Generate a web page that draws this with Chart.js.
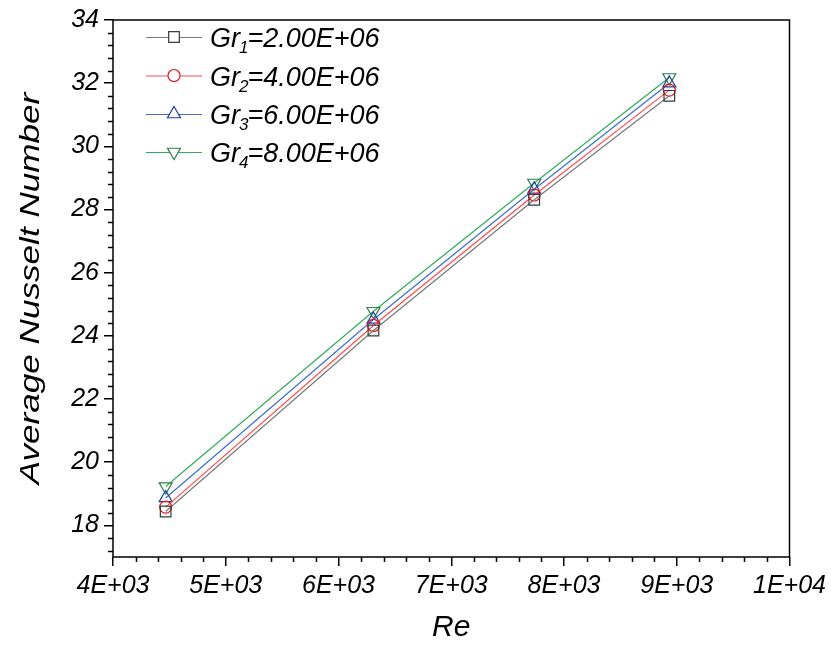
<!DOCTYPE html>
<html>
<head>
<meta charset="utf-8">
<script src="https://cdn.jsdelivr.net/npm/chart.js@4.4.0/dist/chart.umd.min.js"></script>
<style>
  html, body { margin: 0; padding: 0; background: #fff; }
  #wrap { width: 831px; height: 648px; position: relative; }
</style>
</head>
<body>
<div id="wrap"><canvas id="c" width="831" height="648"></canvas></div>
<script>
// Reynolds numbers of the four runs
const reynolds = [4467, 6310, 7736, 8934];

// Average Nusselt number for each Grashof number
const nuGr1 = [18.44, 24.17, 28.31, 31.60];
const nuGr2 = [18.58, 24.33, 28.46, 31.78];
const nuGr3 = [18.87, 24.52, 28.64, 32.00];
const nuGr4 = [19.23, 24.78, 28.84, 32.18];

// Legend text pieces: subscript index and Grashof value
const grIndex = ['1', '2', '3', '4'];
const grValue = ['2.00E+06', '4.00E+06', '6.00E+06', '8.00E+06'];

// Axis ticks and titles
const xTicks = [4000, 5000, 6000, 7000, 8000, 9000, 10000];
const yTicks = [18, 20, 22, 24, 26, 28, 30, 32, 34];
const yTitle = 'Average Nusselt Number';
const xTitle = 'Re';

const FONT = '"Liberation Sans", Arial, sans-serif';

function sciLabel(v) {
  const exp = Math.floor(Math.log10(v) + 1e-9);
  const mant = Math.round(v / Math.pow(10, exp) * 100) / 100;
  return mant + 'E+' + String(exp).padStart(2, '0');
}

const seriesStyle = [
  { line: '#7a7a7a', mark: '#3a3a3a', style: 'rect',     radius: 7.5, rot: 0 },
  { line: '#ff4a4a', mark: '#e01818', style: 'circle',   radius: 6,   rot: 0 },
  { line: '#3b6fd6', mark: '#1f3f9e', style: 'triangle', radius: 7.5, rot: 0 },
  { line: '#2fae5c', mark: '#2e7d4d', style: 'triangle', radius: 7.5, rot: 180 }
];
const seriesData = [nuGr1, nuGr2, nuGr3, nuGr4];

const datasets = seriesData.map((vals, i) => ({
  label: 'Gr' + grIndex[i] + '=' + grValue[i],
  data: reynolds.map((re, k) => ({ x: re, y: vals[k] })),
  showLine: true,
  borderColor: seriesStyle[i].line,
  borderWidth: 1.2,
  pointStyle: seriesStyle[i].style,
  pointRotation: seriesStyle[i].rot,
  pointRadius: seriesStyle[i].radius,
  pointBorderColor: seriesStyle[i].mark,
  pointBackgroundColor: 'rgba(0,0,0,0)',
  pointBorderWidth: 1.2,
  tension: 0
}));

// Frame, minor ticks, the stretched y title and the legend with subscripts
const decorations = {
  id: 'decorations',
  afterDatasetsDraw(chart) {
    const ctx = chart.ctx;
    const a = chart.chartArea;
    const xs = chart.scales.x, ys = chart.scales.y;
    ctx.save();
    ctx.strokeStyle = '#000';
    ctx.lineWidth = 1.5;
    ctx.strokeRect(a.left, a.top, a.right - a.left, a.bottom - a.top);

    // minor ticks
    ctx.beginPath();
    for (let v = 4000; v <= 10000 + 1e-6; v += 200) {
      if (Math.abs(v / 1000 - Math.round(v / 1000)) < 1e-6) continue;
      const px = Math.round(xs.getPixelForValue(v)) + 0.5;
      ctx.moveTo(px, a.bottom);
      ctx.lineTo(px, a.bottom + 5);
    }
    for (let k = -3; k <= 45; k++) {
      const v = 18 + k * 0.4;
      if (v < 17 - 1e-6 || v > 34 + 1e-6) continue;
      if (k % 5 === 0) continue;
      const py = Math.round(ys.getPixelForValue(v)) + 0.5;
      ctx.moveTo(a.left, py);
      ctx.lineTo(a.left - 5, py);
    }
    ctx.stroke();

    // y axis title, drawn tall and narrow
    ctx.save();
    ctx.translate(31, (a.top + a.bottom) / 2);
    ctx.rotate(-Math.PI / 2);
    ctx.scale(1.3, 1);
    ctx.fillStyle = '#000';
    ctx.font = 'italic 27px ' + FONT;
    ctx.textAlign = 'center';
    ctx.textBaseline = 'middle';
    ctx.fillText(yTitle, 0, 0);
    ctx.restore();

    // legend
    const x0 = 146, x1 = 202, xm = 174, xt = 210;
    const rowY = [37, 75.5, 114, 152];
    chart.data.datasets.forEach((ds, i) => {
      const y = rowY[i];
      const st = seriesStyle[i];
      ctx.strokeStyle = st.line;
      ctx.lineWidth = 1.2;
      ctx.beginPath();
      ctx.moveTo(x0, y + 0.5);
      ctx.lineTo(x1, y + 0.5);
      ctx.stroke();
      ctx.strokeStyle = st.mark;
      ctx.fillStyle = '#fff';
      Chart.helpers.drawPoint(ctx, {
        pointStyle: st.style, rotation: st.rot, radius: st.radius, borderWidth: 1.2
      }, xm, y);
      ctx.fillStyle = '#000';
      ctx.textBaseline = 'alphabetic';
      ctx.textAlign = 'left';
      ctx.font = 'italic 27px ' + FONT;
      const base = y + 10;
      let x = xt;
      ctx.fillText('Gr', x, base);
      x += ctx.measureText('Gr').width;
      ctx.font = 'italic 17px ' + FONT;
      ctx.fillText(grIndex[i], x - 1, base + 6);
      x += ctx.measureText(grIndex[i]).width - 2;
      ctx.font = 'italic 27px ' + FONT;
      ctx.fillText('=' + grValue[i], x, base);
    });
    ctx.restore();
  }
};

new Chart(document.getElementById('c'), {
  type: 'scatter',
  data: { datasets },
  options: {
    responsive: false,
    devicePixelRatio: 1,
    animation: false,
    layout: { padding: { left: 0, top: 15, right: 39, bottom: 0 } },
    plugins: { legend: { display: false }, tooltip: { enabled: false } },
    scales: {
      x: {
        type: 'linear',
        min: 4000, max: 10000,
        afterBuildTicks(scale) { scale.ticks = xTicks.map(v => ({ value: v })); },
        afterFit(scale) { scale.height = 91; },
        border: { display: false },
        grid: { drawOnChartArea: false, drawTicks: true, tickLength: 9, color: '#000', lineWidth: 1.5 },
        ticks: {
          callback: v => sciLabel(v),
          color: '#000',
          padding: 5,
          maxRotation: 0,
          font: { family: FONT, size: 25, style: 'italic' }
        },
        title: {
          display: true, text: xTitle, color: '#000',
          padding: { top: 0, bottom: 2 },
          font: { family: FONT, size: 30, style: 'italic' }
        }
      },
      y: {
        type: 'linear',
        min: 17, max: 34,
        afterBuildTicks(scale) { scale.ticks = yTicks.map(v => ({ value: v })); },
        afterFit(scale) { scale.width = 113; },
        border: { display: false },
        grid: { drawOnChartArea: false, drawTicks: true, tickLength: 9, color: '#000', lineWidth: 1.5 },
        ticks: {
          color: '#000',
          padding: 5,
          font: { family: FONT, size: 25, style: 'italic' }
        },
        title: { display: false }
      }
    }
  },
  plugins: [decorations]
});
</script>
</body>
</html>
